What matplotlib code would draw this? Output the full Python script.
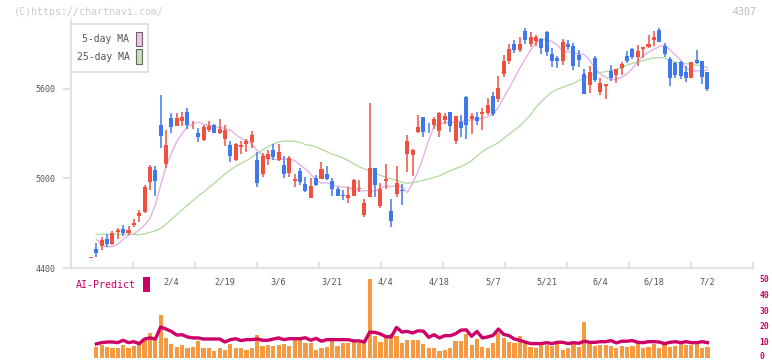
import numpy as np
import matplotlib
matplotlib.use('Agg')
import matplotlib.pyplot as plt
from matplotlib.patches import Rectangle
from matplotlib.transforms import blended_transform_factory, ScaledTranslation

# daily candles (Jan 14 .. Jul 2), red = up, blue = down
opens = [4470, 4527, 4548, 4594, 4563, 4643, 4661, 4637, 4686, 4751,
         4773, 4979, 5057, 5359, 5099, 5404, 5354, 5387, 5446, 5355,
         5307, 5258, 5325, 5359, 5307, 5267, 5225, 5124, 5213, 5231,
         5247, 5124, 5032, 5129, 5191, 5124, 5090, 5035, 4985, 5050,
         4963, 4871, 5005, 4997, 5030, 4983, 4930, 4890, 4871, 4883,
         4932, 4755, 4878, 5070, 4816, 4983, 4782, 4896, 4920, 5166,
         5155, 5312, 5412, 5345, 5361, 5320, 5392, 5446, 5251, 5379,
         5546, 5397, 5414, 5434, 5441, 5553, 5535, 5700, 5790, 5900,
         5860, 5990, 5900, 5920, 5933, 5980, 5835, 5810, 5790, 5902,
         5888, 5828, 5701, 5629, 5808, 5582, 5622, 5721, 5696, 5743,
         5821, 5866, 5817, 5868, 5882, 5931, 5996, 5891, 5799, 5774,
         5783, 5712, 5676, 5792, 5788, 5714]
closes = [4472, 4503, 4588, 4561, 4635, 4655, 4637, 4655, 4702, 4769,
          4945, 5079, 4983, 5287, 5225, 5347, 5404, 5410, 5359, 5360,
          5280, 5345, 5352, 5307, 5330, 5325, 5153, 5231, 5225, 5253,
          5292, 4972, 5151, 5164, 5146, 5180, 5030, 5135, 4997, 4979,
          4916, 4950, 4956, 5064, 4995, 4928, 4883, 4885, 4887, 4990,
          4938, 4834, 5070, 4959, 4932, 4999, 4715, 4970, 4915, 5251,
          5191, 5345, 5314, 5342, 5397, 5441, 5421, 5354, 5419, 5341,
          5359, 5419, 5385, 5448, 5493, 5432, 5605, 5790, 5870, 5860,
          5900, 5930, 5950, 5950, 5877, 5846, 5790, 5790, 5915, 5884,
          5757, 5794, 5569, 5716, 5663, 5640, 5634, 5676, 5734, 5768,
          5790, 5817, 5855, 5882, 5902, 5949, 5913, 5832, 5676, 5696,
          5685, 5672, 5781, 5774, 5683, 5602]
highs = [4475, 4568, 4606, 4628, 4648, 4668, 4688, 4682, 4728, 4789,
         4956, 5090, 5084, 5560, 5325, 5437, 5441, 5446, 5471, 5385,
         5337, 5359, 5385, 5365, 5399, 5359, 5251, 5236, 5253, 5265,
         5318, 5180, 5169, 5191, 5231, 5231, 5151, 5151, 5030, 5068,
         5008, 5005, 5024, 5111, 5084, 5000, 4945, 4923, 4945, 4995,
         4990, 4863, 5504, 5072, 4972, 5097, 4863, 5084, 4963, 5290,
         5195, 5426, 5415, 5370, 5415, 5448, 5441, 5448, 5421, 5426,
         5550, 5437, 5446, 5473, 5538, 5580, 5687, 5830, 5900, 5930,
         5950, 6010, 5980, 5960, 5944, 5985, 5873, 5821, 5935, 5929,
         5911, 5861, 5734, 5754, 5821, 5671, 5636, 5761, 5736, 5783,
         5857, 5873, 5895, 5884, 5962, 5989, 6007, 5906, 5812, 5783,
         5790, 5754, 5783, 5861, 5790, 5716]
lows = [4468, 4476, 4521, 4543, 4554, 4592, 4614, 4621, 4677, 4711,
        4767, 4923, 4885, 5206, 5072, 5303, 5352, 5354, 5332, 5330,
        5247, 5249, 5314, 5303, 5298, 5220, 5113, 5119, 5162, 5180,
        5206, 4945, 5012, 5090, 5124, 5120, 5005, 5012, 4945, 4956,
        4912, 4868, 4950, 4995, 4990, 4883, 4880, 4856, 4838, 4880,
        4908, 4744, 4875, 4878, 4804, 4928, 4677, 4874, 4824, 5046,
        5017, 5303, 5280, 5307, 5334, 5280, 5363, 5312, 5233, 5280,
        5267, 5300, 5359, 5325, 5426, 5419, 5515, 5680, 5770, 5840,
        5850, 5900, 5880, 5890, 5832, 5823, 5750, 5743, 5761, 5861,
        5727, 5750, 5565, 5575, 5649, 5560, 5535, 5654, 5642, 5694,
        5772, 5799, 5756, 5806, 5873, 5891, 5913, 5817, 5622, 5676,
        5665, 5649, 5674, 5765, 5636, 5589]

# moving averages as drawn on the chart
ma5 = [np.nan, 4592, 4556, 4543, 4543, 4559, 4592, 4619, 4628, 4655,
       4688, 4733, 4822, 4956, 5079, 5169, 5247, 5303, 5347, 5365,
       5377, 5365, 5356, 5347, 5343, 5334, 5325, 5294, 5269, 5254,
       5231, 5187, 5155, 5142, 5129, 5124, 5131, 5129, 5120, 5091,
       5064, 5028, 4990, 4968, 4972, 4959, 4947, 4943, 4941, 4927,
       4916, 4918, 4918, 4916, 4934, 4950, 4945, 4952, 4945, 4905,
       4968, 5046, 5146, 5258, 5347, 5365, 5374, 5377, 5377, 5381,
       5388, 5392, 5397, 5403, 5415, 5432, 5477, 5544, 5605, 5672,
       5740, 5800, 5860, 5910, 5933, 5929, 5917, 5895, 5850, 5850,
       5839, 5835, 5832, 5794, 5739, 5701, 5678, 5660, 5667, 5678,
       5701, 5739, 5783, 5821, 5846, 5866, 5884, 5895, 5861, 5828,
       5794, 5739, 5721, 5721, 5721, 5727]
ma25 = [np.nan, 4626, 4626, 4626, 4626, 4626, 4626, 4626, 4626, 4623,
        4628, 4639, 4650, 4666, 4693, 4726, 4758, 4789, 4822, 4851,
        4883, 4909, 4939, 4968, 4999, 5030, 5057, 5082, 5102, 5120,
        5142, 5169, 5191, 5213, 5231, 5245, 5251, 5251, 5249, 5242,
        5227, 5222, 5211, 5196, 5180, 5164, 5151, 5138, 5120, 5100,
        5079, 5064, 5050, 5035, 5021, 5008, 4997, 4985, 4974, 4968,
        4972, 4979, 4988, 4997, 5008, 5017, 5035, 5053, 5066, 5079,
        5097, 5120, 5151, 5180, 5202, 5220, 5240, 5269, 5296, 5325,
        5352, 5388, 5426, 5477, 5515, 5549, 5580, 5598, 5611, 5625,
        5638, 5656, 5669, 5687, 5701, 5710, 5716, 5723, 5732, 5743,
        5759, 5772, 5781, 5790, 5801, 5808, 5810, 5808, 5794, 5779,
        5774, 5770, 5765, 5759, 5754, 5743]

# lower panel: volume bars and AI-Predict line (0-50 scale)
volume = [np.nan, 6.9, 8.2, 6.9, 6.3, 5.7, 8.2, 5.7, 7.5, 8.8,
          11.9, 15.7, 12.6, 27.0, 12.6, 8.8, 6.9, 8.2, 6.3, 6.9,
          10.7, 6.3, 6.3, 4.4, 6.3, 5.0, 8.8, 5.7, 6.3, 5.0,
          5.7, 14.5, 7.5, 8.2, 7.5, 8.2, 8.8, 7.5, 11.3, 11.3,
          9.4, 9.4, 5.0, 6.3, 6.9, 11.3, 7.5, 9.4, 9.4, 10.1,
          9.4, 9.4, 50.0, 13.8, 10.1, 12.6, 15.1, 13.8, 9.4, 11.3,
          11.3, 11.3, 8.8, 6.3, 6.3, 4.4, 5.0, 6.3, 10.7, 10.7,
          15.1, 8.2, 11.9, 6.9, 6.3, 9.4, 15.7, 12.6, 10.1, 9.4,
          13.8, 9.4, 6.9, 6.3, 8.5, 8.2, 7.5, 8.8, 5.0, 6.3,
          9.0, 6.9, 22.6, 8.8, 7.2, 8.2, 8.2, 7.5, 6.3, 7.5,
          6.9, 7.5, 9.0, 6.3, 6.5, 8.8, 5.7, 8.8, 6.9, 7.5,
          9.4, 8.2, 8.2, 8.8, 6.3, 6.9]
ai_predict = [np.nan, 8.6, 9.4, 9.8, 9.8, 9.4, 10.9, 9.4, 10.0, 8.8,
              11.7, 12.4, 11.7, 19.3, 18.0, 16.5, 14.2, 14.4, 13.0, 12.4,
              12.4, 11.7, 11.7, 11.7, 11.7, 9.8, 11.3, 11.9, 10.7, 11.3,
              11.3, 11.7, 10.9, 10.9, 11.7, 12.4, 11.3, 11.9, 11.9, 11.9,
              12.5, 10.9, 12.1, 10.3, 11.3, 11.3, 11.3, 11.3, 11.3, 10.5,
              10.5, 9.8, 16.1, 15.9, 14.9, 13.2, 13.0, 19.0, 16.1, 16.5,
              15.5, 16.9, 16.7, 12.8, 14.4, 12.4, 13.8, 13.8, 15.0, 17.3,
              17.5, 13.4, 16.5, 12.4, 13.0, 14.0, 18.0, 14.6, 13.8, 11.7,
              10.9, 9.8, 8.8, 8.8, 8.8, 9.4, 8.8, 9.6, 9.6, 8.8,
              9.4, 9.0, 10.3, 9.6, 9.6, 10.0, 10.0, 10.7, 9.2, 10.3,
              10.3, 10.7, 9.6, 9.4, 10.0, 10.0, 9.8, 8.8, 9.6, 10.0,
              9.4, 10.0, 9.4, 9.4, 10.0, 9.4]

date_labels = ['2/4', '2/19', '3/6', '3/21', '4/4', '4/18', '5/7', '5/21', '6/4', '6/18', '7/2']
label_idx = [15, 25, 35, 45, 55, 65, 75, 85, 95, 105, 115]
price_ticks = [4400, 5000, 5600]
ai_ticks = [0, 10, 20, 30, 40, 50]

RED = '#ef5040'
BLUE = '#3f78ec'
GRID = '#dddddd'
TXT = '#555555'
MONO = 'DejaVu Sans Mono'

W, H = 772, 361
fig = plt.figure(figsize=(W / 100, H / 100), dpi=100)

def px_axes(x0, y0, x1, y1):
    # pixel box (top-left origin) -> figure axes
    return fig.add_axes([x0 / W, 1 - y1 / H, (x1 - x0) / W, (y1 - y0) / H])

n = len(closes)
x = np.arange(n)
xlim = (-3.82, 123.4)

# ---- AI-Predict panel (drawn first so the price panel labels sit on top) ----
ax2 = px_axes(70.5, 278.5, 752.5, 357.5)
ax2.patch.set_alpha(0)
ax2.bar(x, volume, width=0.78, color='#f39a42', linewidth=0, zorder=2)
ax2.plot(x, ai_predict, color='#cc0066', lw=2.4, zorder=3)
ax2.set_xlim(xlim)
ax2.set_ylim(0, 50)
for s in ax2.spines.values():
    s.set_visible(False)
ax2.set_xticks([])
ax2.yaxis.tick_right()
ax2.set_yticks(ai_ticks)
ax2.set_yticklabels([str(v) for v in ai_ticks], fontsize=5.8, family=MONO,
                    color='#cc0066', fontweight='bold')
ax2.tick_params(axis='y', length=0, pad=5)
zero_lab = ax2.get_yticklabels()[0]
zero_lab.set_transform(zero_lab.get_transform() + ScaledTranslation(0, 1.8 / 100, fig.dpi_scale_trans))

# ---- price panel ----
ax = px_axes(70.5, 20, 752.5, 268)
ax.patch.set_alpha(0)
o = np.array(opens, float)
c = np.array(closes, float)
up = c >= o
cols = np.where(up, RED, BLUE)
ax.vlines(x, lows, highs, colors=cols, lw=1.1, zorder=3)
body = np.maximum(np.abs(c - o), 6)
ax.bar(x, body, bottom=np.minimum(o, c), width=0.75, color=cols, zorder=4, linewidth=0)
ax.plot(x, ma5, color='#e6b2e6', lw=1.0, zorder=2)
ax.plot(x, ma25, color='#b6dca6', lw=1.0, zorder=2)

ax.set_xlim(xlim)
ax.set_ylim(4400, 6062)
for s in ['top', 'right']:
    ax.spines[s].set_visible(False)
ax.spines['left'].set_color(GRID)
ax.spines['bottom'].set_color(GRID)
ax.spines['left'].set_linewidth(1.2)
ax.spines['bottom'].set_linewidth(1.2)
ax.set_yticks(price_ticks)
ax.set_yticklabels([str(v) for v in price_ticks], fontsize=6, family=MONO, color=TXT)
ax.tick_params(axis='y', length=6, color=GRID, width=1.2, pad=5)
ax.set_xticks(np.linspace(xlim[0], xlim[1], 12))
ax.set_xticklabels([])
ax.tick_params(axis='x', direction='in', length=4, color=GRID, width=1.2)

tr = blended_transform_factory(ax.transData, ax.transAxes)
for lab, i in zip(date_labels, label_idx):
    ax.text(i, -0.057, lab, transform=tr, ha='center', va='center',
            fontsize=6.2, family=MONO, color=TXT, clip_on=False)

# legend box
lg = px_axes(70.5, 24, 148, 72)
lg.set_xlim(0, 77.5)
lg.set_ylim(48, 0)
lg.set_xticks([])
lg.set_yticks([])
for s in lg.spines.values():
    s.set_color(GRID)
    s.set_linewidth(1.2)
lg.text(59, 14.5, '5-day MA', ha='right', va='center', fontsize=7, family=MONO, color=TXT)
lg.text(59, 32.5, '25-day MA', ha='right', va='center', fontsize=7, family=MONO, color=TXT)
lg.add_patch(Rectangle((65.5, 7.5), 6, 14, facecolor='#f0c0f0', edgecolor='#666666', lw=0.8))
lg.add_patch(Rectangle((65.5, 24.5), 6, 15, facecolor='#c0e4b4', edgecolor='#666666', lw=0.8))

fig.text(76 / W, 1 - 285 / H, 'AI-Predict', ha='left', va='center',
         fontsize=7.2, family=MONO, color='#cc0066')
fig.patches.append(Rectangle((143 / W, 1 - 292 / H), 6.5 / W, 15 / H,
                             transform=fig.transFigure, facecolor='#cc0066',
                             edgecolor='none'))

fig.text(14 / W, 1 - 12 / H, '(C)https://chartnavi.com/', ha='left', va='center',
         fontsize=7.2, family=MONO, color='#cccccc')
fig.text(757 / W, 1 - 12 / H, '4307', ha='right', va='center',
         fontsize=7.2, family=MONO, color='#bbbbbb')

fig.savefig('out.png', dpi=100, facecolor='white')
